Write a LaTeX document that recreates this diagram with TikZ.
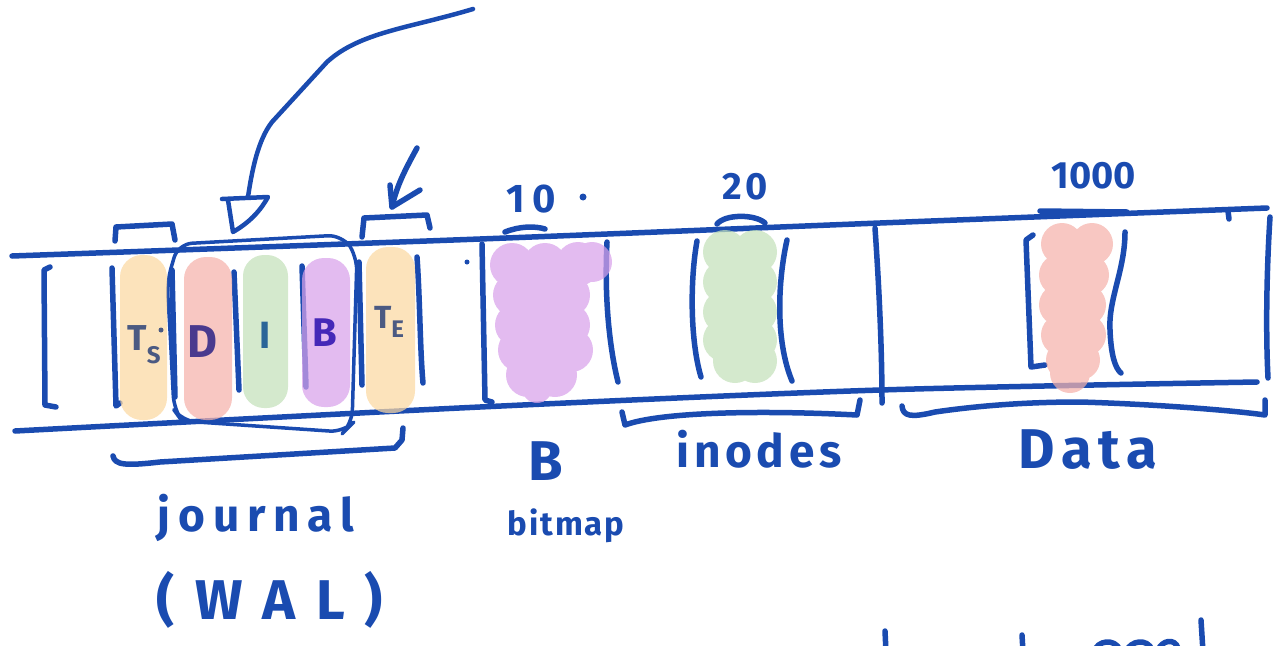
\documentclass[tikz,border=0pt]{standalone}
\usepackage{fontspec}
\setmainfont{Fira Sans}
\definecolor{ink}{RGB}{26,75,176}
\definecolor{hlorange}{RGB}{251,216,161}
\definecolor{hlpink}{RGB}{245,178,171}
\definecolor{hlgreen}{RGB}{195,225,186}
\definecolor{hlpurple}{RGB}{216,161,234}
\definecolor{tsgray}{RGB}{75,90,130}
\definecolor{dpurple}{RGB}{74,58,142}
\definecolor{iteal}{RGB}{42,101,152}
\definecolor{bviolet}{RGB}{69,40,184}
\tikzset{
  pen/.style={draw=ink, line width=5.5pt, line cap=round, line join=round},
  thinpen/.style={draw=ink, line width=3.5pt, line cap=round, line join=round},
  hl/.style={opacity=0.72},
  hand/.style={text=ink, inner sep=0pt, font=\bfseries},
}
\newcommand{\fsz}[1]{\fontsize{#1}{#1}\selectfont}
\begin{document}
\begin{tikzpicture}[x=1pt,y=-1pt]
\useasboundingbox (0,0) rectangle (1281,645);

% ---- the disk strip ----
\draw[pen] plot[smooth] coordinates {(12,256) (480,239) (880,223) (1267,208)};
\draw[pen] plot[smooth] coordinates {(15,431) (480,407) (880,390) (1257,382)};
\draw[pen] (1228,211) -- (1229,219);

% block dividers
\draw[pen] (50,267) -- (44,270) -- (45,405) -- (56,407);
\draw[pen] (112,268) -- (116,406) -- (120,403);
\draw[pen] (172,270) -- (175,397);
\draw[pen] (234,272) -- (239,390);
\draw[pen] (302,266) -- (306,387);
\draw[pen] (359,262) -- (362,385);
\draw[pen] (417,257) .. controls (420,300) and (420,350) .. (423,383);
\draw[pen] (482,244) -- (485,400) -- (492,402);
\draw[pen] (607,242) .. controls (604,300) and (610,350) .. (618,382);
\draw[pen] (697,241) .. controls (690,280) and (690,340) .. (701,377);
\draw[pen] (787,240) .. controls (778,280) and (775,340) .. (792,381);
\draw[pen] (875,228) .. controls (880,300) and (882,360) .. (882,403);
\draw[pen] (1033,235) -- (1026,240) -- (1031,367) -- (1045,365);
\draw[pen] (1125,232) .. controls (1125,270) and (1108,300) .. (1110,330) .. controls (1111,355) and (1115,368) .. (1121,373);
\draw[pen] (1270,217) .. controls (1266,280) and (1266,340) .. (1268,378);

% journal transaction box
\draw[thinpen, rounded corners=14] (170,330) -- (167,282) -- (178,244) -- (342,235) -- (357,256) -- (352,424) -- (344,432) -- (182,421) -- (174,410) -- cycle;

% braces
\draw[pen] (115,241) -- (116,227) -- (172,224) -- (175,240);
\draw[pen] (362,237) -- (364,218) -- (427,215) -- (430,228);
\draw[pen] (113,456) .. controls (115,465) and (125,466) .. (160,462) -- (395,448) -- (402,440) -- (403,428);
\draw[pen] (505,232) .. controls (520,226) and (535,226) .. (545,229);
\draw[pen] (717,224) .. controls (725,214) and (755,214) .. (765,223);
\draw[pen] (622,412) -- (625,425) .. controls (660,412) and (760,410) .. (857,415) -- (860,400);
\draw[pen] (1040,211) -- (1127,212);
\draw[pen] (902,406) .. controls (903,416) and (910,418) .. (935,412) .. controls (990,404) and (1040,402) .. (1080,402) .. controls (1150,404) and (1230,410) .. (1265,415) -- (1265,400);

% arrows
\coordinate (bigtail) at (473,9);
\coordinate (bigtip) at (248,197);
\draw[pen, line width=4.5pt] (bigtail) .. controls (410,28) and (360,32) .. (327,62) -- (272,122) .. controls (258,140) and (252,170) .. (bigtip);
\draw[pen, line width=4.5pt] (222,199) -- (268,197) .. controls (258,215) and (245,225) .. (233,232) -- (228,200);
\coordinate (smalltail) at (417,148);
\coordinate (smalltip) at (392,207);
\draw[pen] (smalltail) .. controls (405,170) and (397,185) .. (smalltip);
\draw[pen] (390,185) -- (smalltip) -- (420,190);

% stray dots
\fill[ink] (467,262) circle (2.5);
\fill[ink] (583,197) circle (3.5);

% ---- highlighter marks ----
\fill[hlorange, hl, rounded corners=22] (120,255) rectangle (167,420);
\fill[hlpink, hl, rounded corners=22] (184,257) rectangle (232,420);
\fill[hlgreen, hl, rounded corners=21] (243,255) rectangle (288,408);
\fill[hlpurple, hl, rounded corners=22] (302,258) rectangle (350,407);
\fill[hlorange, hl, rounded corners=22] (366,247) rectangle (415,413);

\fill[hlpurple, hl]
  (512,265) circle (22) (545,265) circle (22) (578,264) circle (22) (592,262) circle (20)
  (515,295) circle (22) (545,295) circle (22) (568,295) circle (22)
  (517,325) circle (22) (545,325) circle (22) (568,325) circle (22)
  (520,350) circle (22) (548,350) circle (22) (571,350) circle (22)
  (528,375) circle (22) (555,375) circle (22)
  (537,388) circle (15);
\fill[hlgreen, hl]
  (725,252) circle (22) (755,252) circle (22)
  (725,282) circle (22) (755,282) circle (22)
  (725,312) circle (22) (755,312) circle (22)
  (725,340) circle (22) (755,340) circle (22)
  (735,361) circle (22) (755,361) circle (22);
\fill[hlpink, hl]
  (1062,244) circle (21) (1092,244) circle (21)
  (1060,275) circle (21) (1088,275) circle (21)
  (1060,305) circle (21) (1085,305) circle (21)
  (1062,335) circle (21) (1085,335) circle (21)
  (1066,360) circle (20) (1080,360) circle (20)
  (1070,373) circle (20);

% ---- labels inside the journal ----
\node[hand, text=tsgray, font=\bfseries\fsz{36}] (ts) at (144,345) {T\raisebox{-0.35em}{\fsz{24}S}};
\fill[tsgray] (161,330) circle (2.5);
\node[hand, text=dpurple, font=\bfseries\fsz{46}] (dlab) at (202,342) {D};
\node[hand, text=iteal, font=\bfseries\fsz{38}] (ilab) at (265,335) {I};
\node[hand, text=bviolet, font=\bfseries\fsz{40}] (blab) at (325,333) {B};
\node[hand, text=tsgray, font=\bfseries\fsz{32}] (te) at (389,322) {T\raisebox{-0.3em}{\fsz{24}E}};

% ---- handwritten labels ----
\node[hand, font=\bfseries\fsz{40}\addfontfeature{LetterSpace=20}] (ten) at (531,199) {10};
\node[hand, font=\bfseries\fsz{38}\addfontfeature{LetterSpace=10}] (twenty) at (745,187) {20};
\node[hand, font=\bfseries\fsz{38}] (thousand) at (1094,176) {1000};
\node[hand, font=\bfseries\fsz{56}] (bigB) at (546,461) {B};
\node[hand, font=\bfseries\fsz{33}\addfontfeature{LetterSpace=6}] (bitmap) at (566,526) {bitmap};
\node[hand, font=\bfseries\fsz{46}\addfontfeature{LetterSpace=10}] (inodes) at (759,449) {inodes};
\node[hand, font=\bfseries\fsz{56}\addfontfeature{LetterSpace=12}] (data) at (1088,450) {Data};
\node[hand, font=\bfseries\fsz{46}\addfontfeature{LetterSpace=17}] (journal) at (256,518) {journal};
\node[hand, font=\bfseries\fsz{56}\addfontfeature{LetterSpace=36}] (wal) at (270,600) {(WAL)};

% strokes of writing running off the bottom edge
\draw[pen] (885,631) -- (886,652);
\draw[pen] (1022,635) -- (1023,652);
\draw[pen] (1094,652) .. controls (1097,640) and (1115,638) .. (1120,650);
\draw[pen] (1126,652) .. controls (1130,640) and (1148,638) .. (1152,650);
\draw[pen] (1158,650) .. controls (1162,640) and (1175,638) .. (1178,648);
\draw[pen] (1201,620) -- (1203,652);
\end{tikzpicture}
\end{document}
